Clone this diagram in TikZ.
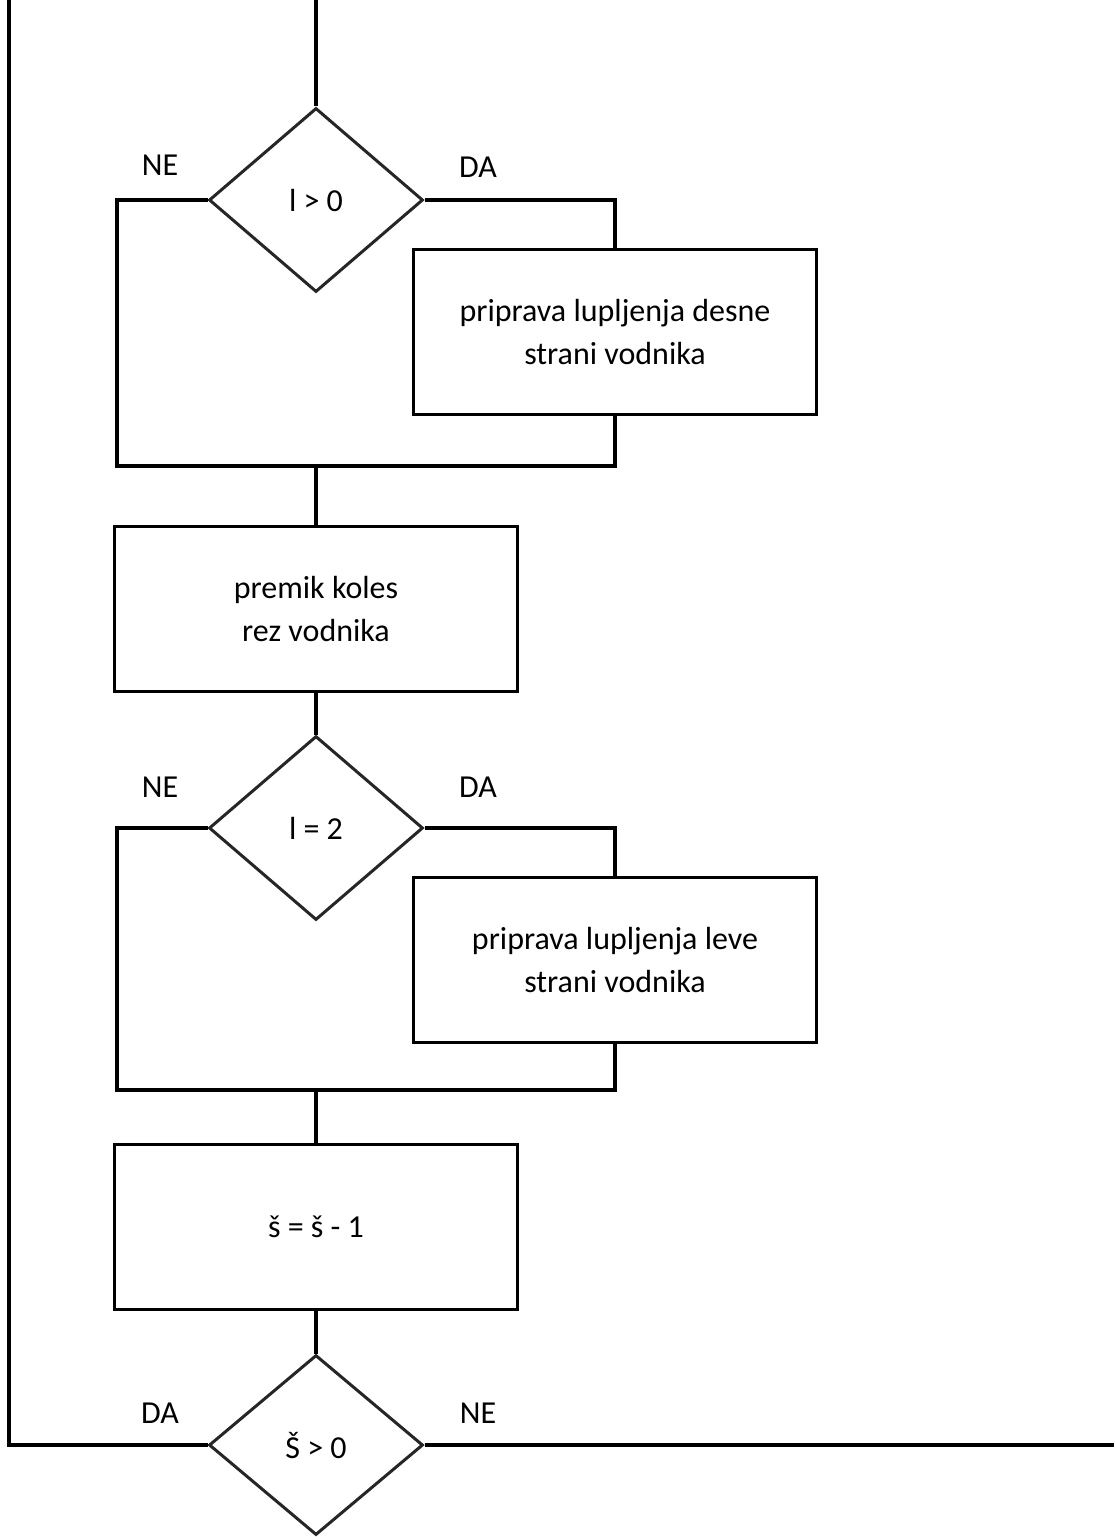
\documentclass[tikz,border=0pt]{standalone}
\usepackage{fontspec}
\setmainfont{Carlito}
\usetikzlibrary{shapes.geometric}

\begin{document}
\begin{tikzpicture}[x=1pt, y=-1pt, line width=3.5pt,
  font=\fontsize{32}{43}\selectfont,
  proc/.style={rectangle, draw, line width=3.5pt, minimum width=403pt, minimum height=165pt, align=center, inner sep=0pt},
  cond/.style={diamond, draw=black!85, line width=3pt, minimum width=214pt, minimum height=184pt, inner sep=0pt},
  lbl/.style={inner sep=0pt}]
\useasboundingbox (0,0) rectangle (1114,1537);

\coordinate (start) at (316,0);
\coordinate (loop) at (9,0);
\coordinate (exit) at (1114,1445);
\coordinate (j1) at (117,466);
\coordinate (j2) at (117,1090);

\node[cond] (c1) at (316,200) {l > 0};
\node[proc] (b1) at (615,332) {priprava lupljenja desne\\strani vodnika};
\node[proc] (b2) at (316,609) {premik koles\\rez vodnika};
\node[cond] (c2) at (316,828) {l = 2};
\node[proc] (b3) at (615,960) {priprava lupljenja leve\\strani vodnika};
\node[proc] (b4) at (316,1227) {š = š - 1};
\node[cond, minimum height=180pt] (c3) at (316,1445) {Š > 0};

\node[lbl] (ne1) at (160,165) {NE};
\node[lbl] (da1) at (478,167) {DA};
\node[lbl] (ne2) at (160,787) {NE};
\node[lbl] (da2) at (478,787) {DA};
\node[lbl] (da3) at (160,1413) {DA};
\node[lbl] (ne3) at (478,1413) {NE};

\draw (start) -- (c1);
\draw (c1.west) -| (j1) -- (j1 -| b1) -- (b1);
\draw (c1.east) -| (b1);
\draw (j1 -| b2) -- (b2);
\draw (b2) -- (c2);
\draw (c2.west) -| (j2) -- (j2 -| b3) -- (b3);
\draw (c2.east) -| (b3);
\draw (j2 -| b4) -- (b4);
\draw (b4) -- (c3);
\draw (c3.west) -| (loop);
\draw (c3.east) -- (exit);
\end{tikzpicture}
\end{document}
